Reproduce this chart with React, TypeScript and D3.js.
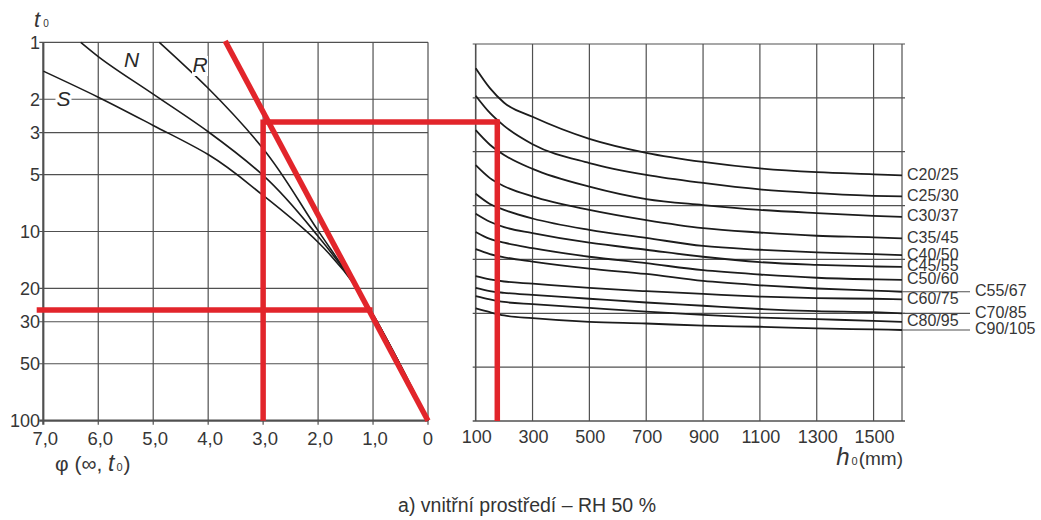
import React, { useEffect, useRef } from 'react';
import * as d3 from 'd3';

// left nomogram: creep coefficient phi(inf, t0) vs age t0 (days)
const phiTicks = [7, 6, 5, 4, 3, 2, 1, 0];
const t0Ticks = [1, 2, 3, 5, 10, 20, 30, 50, 100];

// [phi, t0] for the three cement classes
const cementS = [[7.0, 1.42], [6.0, 1.95], [5.0, 2.75], [4.0, 3.92], [3.0, 6.45], [2.0, 11.4], [1.3, 19.8], [1.0, 27.5], [0.5, 51], [0, 100]];
const cementN = [[6.32, 1.0], [6.0, 1.19], [5.0, 1.88], [4.0, 2.97], [3.0, 5.05], [2.0, 10.6], [1.3, 19.8], [1.0, 27.5], [0.5, 51], [0, 100]];
const cementR = [[4.89, 1.0], [4.0, 1.75], [3.0, 3.65], [2.0, 9.9], [1.3, 19.8], [1.0, 27.5], [0.5, 51], [0, 100]];

// right nomogram: notional size h0 (mm), unlabelled vertical grid units 0..7
const h0Ticks = [100, 300, 500, 700, 900, 1100, 1300, 1500];
const gridUnits = [0, 1, 2, 3, 4, 5, 6, 7];
const h0Samples = [100, 150, 200, 300, 500, 700, 900, 1100, 1300, 1500, 1600];

const concreteClasses = ['C20/25', 'C25/30', 'C30/37', 'C35/45', 'C40/50', 'C45/55', 'C50/60', 'C55/67', 'C60/75', 'C70/85', 'C80/95', 'C90/105'];
const offsetLabels = ['C55/67', 'C70/85', 'C90/105'];

const c20 = [6.55, 6.18, 5.91, 5.65, 5.24, 4.98, 4.81, 4.69, 4.62, 4.58, 4.56];
const c25 = [6.04, 5.72, 5.48, 5.14, 4.79, 4.57, 4.42, 4.30, 4.23, 4.18, 4.17];
const c30 = [5.40, 5.13, 4.94, 4.68, 4.35, 4.12, 4.01, 3.92, 3.86, 3.81, 3.79];
const c35 = [4.75, 4.51, 4.36, 4.17, 3.92, 3.73, 3.58, 3.50, 3.44, 3.41, 3.39];
const c40 = [4.22, 4.03, 3.92, 3.76, 3.55, 3.40, 3.25, 3.18, 3.13, 3.10, 3.08];
const c45 = [3.85, 3.70, 3.60, 3.49, 3.31, 3.18, 3.05, 2.95, 2.90, 2.87, 2.86];
const c50 = [3.51, 3.38, 3.31, 3.21, 3.05, 2.93, 2.80, 2.72, 2.66, 2.63, 2.62];
const c55 = [3.19, 3.10, 3.04, 2.96, 2.83, 2.73, 2.60, 2.52, 2.46, 2.42, 2.40];
const c60 = [2.69, 2.63, 2.59, 2.55, 2.47, 2.41, 2.36, 2.31, 2.28, 2.27, 2.26];
const c70 = [2.47, 2.41, 2.38, 2.34, 2.27, 2.20, 2.14, 2.08, 2.04, 2.02, 2.00];
const c80 = [2.32, 2.26, 2.21, 2.17, 2.10, 2.03, 1.97, 1.92, 1.89, 1.86, 1.84];
const c90 = [2.09, 2.02, 1.96, 1.91, 1.84, 1.81, 1.77, 1.75, 1.72, 1.70, 1.69];
const classCurves = [c20, c25, c30, c35, c40, c45, c50, c55, c60, c70, c80, c90];

// red worked example
const exampleT0 = 2.64;
const examplePhi = 3.0;
const exampleH0 = 176;
const exampleT0Low = 26;
const examplePhiLow = 1.1;
const rayStart = [3.69, 0.985];

const App = () => {
  const svgRef = useRef(null);
  const width = 1041;
  const height = 520;

  useEffect(() => {
    const svg = d3.select(svgRef.current);
    svg.selectAll('*').remove();

    const gridColor = '#505050';
    const textColor = '#363636';
    const red = '#e2252b';
    const font = '"Liberation Sans", Arial, sans-serif';

    const x = d3.scaleLinear().domain([7, 0]).range([43.3, 428]);
    const y = d3.scaleLog().domain([1, 100]).range([42.3, 420.7]);
    const xh = d3.scaleLinear().domain([100, 1600]).range([475.7, 902]);
    const yu = d3.scaleLinear().domain([0, 7]).range([421, 44]);

    svg.append('rect').attr('width', width).attr('height', height).attr('fill', '#fff');

    // left grid
    const left = svg.append('g');
    left.selectAll('.vgrid').data(phiTicks).enter().append('line')
      .attr('x1', d => x(d)).attr('x2', d => x(d))
      .attr('y1', y(1)).attr('y2', y(100) + 4)
      .attr('stroke', gridColor).attr('stroke-width', d => d === 7 ? 2.2 : 1.2);
    left.selectAll('.hgrid').data(t0Ticks).enter().append('line')
      .attr('x1', x(7) - 4).attr('x2', x(0))
      .attr('y1', d => y(d)).attr('y2', d => y(d))
      .attr('stroke', gridColor).attr('stroke-width', d => d === 100 ? 2.2 : 1.2);

    left.selectAll('.ylab').data(t0Ticks).enter().append('text')
      .attr('x', 40).attr('y', d => y(d)).attr('dy', '0.36em')
      .attr('text-anchor', 'end').attr('font-family', font).attr('font-size', 18)
      .attr('fill', textColor).text(d => d);

    const fmt = d => d === 0 ? '0' : d.toFixed(1).replace('.', ',');
    left.selectAll('.xlab').data(phiTicks).enter().append('text')
      .attr('x', d => x(d) + (d === 0 ? 0 : 2)).attr('y', 445)
      .attr('text-anchor', 'middle').attr('font-family', font).attr('font-size', 18.5)
      .attr('fill', textColor).text(fmt);

    // cement curves
    const cementLine = d3.line().x(d => x(d[0])).y(d => y(d[1])).curve(d3.curveMonotoneY);
    [cementS, cementN, cementR].forEach(c => {
      left.append('path').attr('d', cementLine(c))
        .attr('fill', 'none').attr('stroke', '#1c1c1c').attr('stroke-width', 1.6);
    });

    // curve labels with white knock-out
    const curveLabels = [
      { t: 'S', x: 63.5, y: 106, box: true },
      { t: 'N', x: 131.5, y: 67, box: false },
      { t: 'R', x: 200, y: 72, box: true },
    ];
    curveLabels.forEach(l => {
      if (l.box) {
        left.append('rect').attr('x', l.x - 8).attr('y', l.y - 16).attr('width', 16).attr('height', 20)
          .attr('fill', '#fff');
      }
      left.append('text').attr('x', l.x).attr('y', l.y).attr('text-anchor', 'middle')
        .attr('font-family', font).attr('font-size', 21).attr('font-style', 'italic')
        .attr('fill', '#2a2a2a').text(l.t);
    });

    // axis titles
    const t0Title = left.append('text').attr('x', 34).attr('y', 27)
      .attr('font-family', font).attr('fill', textColor);
    t0Title.append('tspan').attr('font-size', 22).attr('font-style', 'italic').text('t');
    t0Title.append('tspan').attr('font-size', 10).attr('dx', 3).text('0');

    const phiTitle = left.append('text').attr('x', 55).attr('y', 471)
      .attr('font-family', font).attr('font-size', 21).attr('fill', textColor);
    phiTitle.append('tspan').text('φ (∞, ');
    phiTitle.append('tspan').attr('font-style', 'italic').attr('font-size', 23).text('t');
    phiTitle.append('tspan').attr('font-size', 11).attr('dx', 2).text('0');
    phiTitle.append('tspan').attr('dx', 1).text(')');

    // right grid
    const right = svg.append('g');
    right.selectAll('.vgrid').data([...h0Ticks, 1600]).enter().append('line')
      .attr('x1', d => xh(d)).attr('x2', d => xh(d))
      .attr('y1', yu(7)).attr('y2', yu(0))
      .attr('stroke', gridColor).attr('stroke-width', d => d === 100 ? 1.6 : 1.2);
    right.selectAll('.hgrid').data(gridUnits).enter().append('line')
      .attr('x1', xh(100) - 3).attr('x2', xh(1600) + 3)
      .attr('y1', d => yu(d)).attr('y2', d => yu(d))
      .attr('stroke', gridColor).attr('stroke-width', d => d === 0 ? 1.6 : 1.2);

    right.selectAll('.xlab').data(h0Ticks).enter().append('text')
      .attr('x', d => xh(d) + 1).attr('y', 443)
      .attr('text-anchor', 'middle').attr('font-family', font).attr('font-size', 18)
      .attr('fill', textColor).text(d => d);

    const hTitle = right.append('text').attr('x', 903).attr('y', 465).attr('text-anchor', 'end')
      .attr('font-family', font).attr('font-size', 19).attr('fill', textColor);
    hTitle.append('tspan').attr('font-style', 'italic').attr('font-size', 24).text('h');
    hTitle.append('tspan').attr('font-size', 11).attr('dx', 2).text('0');
    hTitle.append('tspan').attr('dx', 1).text('(mm)');

    // concrete class curves, labels at the curve ends
    const classLine = d3.line().x((d, i) => xh(h0Samples[i])).y(d => yu(d)).curve(d3.curveMonotoneX);
    classCurves.forEach((c, i) => {
      right.append('path').attr('d', classLine(c))
        .attr('fill', 'none').attr('stroke', '#1c1c1c').attr('stroke-width', 1.8);
      const name = concreteClasses[i];
      const endY = yu(c[c.length - 1]);
      const shifted = offsetLabels.includes(name);
      if (shifted) {
        right.append('line').attr('x1', xh(1600)).attr('x2', 970)
          .attr('y1', endY).attr('y2', endY)
          .attr('stroke', gridColor).attr('stroke-width', 1.2);
      }
      right.append('text').attr('x', shifted ? 975 : 907).attr('y', endY + 4.5)
        .attr('font-family', font).attr('font-size', 16).attr('fill', textColor)
        .text(name);
    });

    // red construction lines
    const redG = svg.append('g').attr('stroke', red).attr('stroke-width', 5.5)
      .attr('fill', 'none').attr('stroke-linecap', 'butt');
    redG.append('line')
      .attr('x1', x(rayStart[0])).attr('y1', y(rayStart[1]))
      .attr('x2', x(0)).attr('y2', y(100));
    redG.append('line')
      .attr('x1', x(examplePhi)).attr('y1', y(exampleT0))
      .attr('x2', xh(exampleH0) + 2).attr('y2', y(exampleT0));
    redG.append('line')
      .attr('x1', x(examplePhi)).attr('y1', y(exampleT0) - 2.5)
      .attr('x2', x(examplePhi)).attr('y2', y(100));
    redG.append('line')
      .attr('x1', xh(exampleH0)).attr('y1', y(exampleT0) - 2.5)
      .attr('x2', xh(exampleH0)).attr('y2', yu(0));
    redG.append('line')
      .attr('x1', x(7.12)).attr('y1', y(exampleT0Low))
      .attr('x2', x(examplePhiLow) + 5).attr('y2', y(exampleT0Low));

    // caption
    svg.append('text').attr('x', 527).attr('y', 512).attr('text-anchor', 'middle')
      .attr('font-family', font).attr('font-size', 19.5).attr('fill', '#333')
      .text('a) vnitřní prostředí – RH 50 %');
  }, []);

  return (
    <svg ref={svgRef} width={width} height={height}
      style={{ position: 'absolute', left: 0, top: 0, display: 'block' }}></svg>
  );
};

export default App;
